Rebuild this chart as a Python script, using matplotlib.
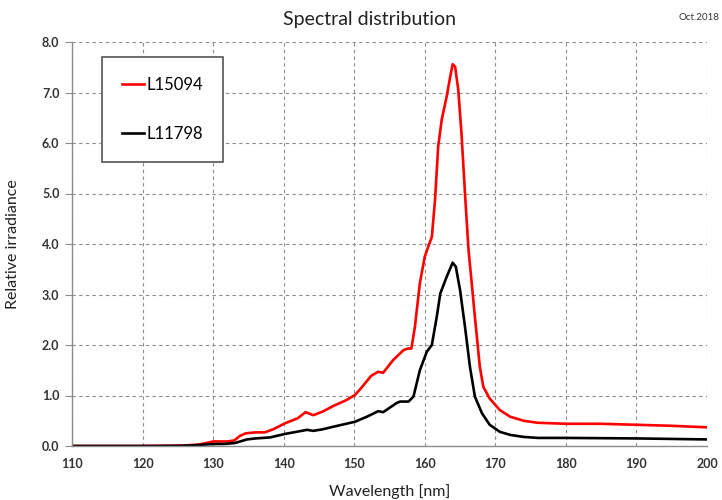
import matplotlib
matplotlib.use("Agg")
import matplotlib.pyplot as plt

# wavelength [nm] / relative irradiance
wl_red = [110, 115, 120, 124, 126, 128, 129, 130, 131, 132, 133, 133.8, 134.6,
          136, 137.3, 138.5, 140.2, 142, 143.1, 144.2, 145.5, 147, 148.9, 150.1,
          151, 152.4, 153.4, 154.1, 155.5, 157, 157.6, 158.1, 158.6, 159.3,
          160, 160.5, 161, 161.45, 161.9, 162.4, 163.1, 163.6, 163.95, 164.3,
          164.75, 165.2, 165.7, 166.2, 166.6, 167.1, 167.8, 168.3, 169.2,
          170.65, 172.1, 174, 176, 180, 185, 190, 195, 200]
irr_red = [0, 0, 0, 0.005, 0.01, 0.03, 0.06, 0.09, 0.09, 0.09, 0.11, 0.2, 0.25,
           0.27, 0.27, 0.33, 0.45, 0.55, 0.67, 0.61, 0.68, 0.79, 0.91, 1.01,
           1.15, 1.39, 1.47, 1.45, 1.70, 1.90, 1.93, 1.93, 2.36, 3.22,
           3.75, 3.95, 4.14, 4.87, 5.93, 6.46, 6.92, 7.31, 7.56, 7.51,
           7.05, 6.19, 5.0, 3.88, 3.3, 2.56, 1.57, 1.17, 0.94,
           0.71, 0.58, 0.50, 0.46, 0.44, 0.44, 0.42, 0.40, 0.37]

wl_black = [110, 120, 125, 127, 129, 130.3, 131.5, 133.1, 134.8, 136, 138.1,
            140.2, 141.8, 143.3, 144.2, 145.5, 147, 150.1, 151.8, 153.4, 154.1,
            156, 156.5, 157.7, 158.4, 159.3, 160.3, 161, 161.7, 162.2, 163.1,
            163.95, 164.4, 165, 165.7, 166.4, 167.1, 168.1, 169.2, 170.65,
            172.1, 174, 176, 180, 190, 200]
irr_black = [0, 0, 0.003, 0.01, 0.03, 0.04, 0.04, 0.06, 0.13, 0.15, 0.17,
             0.24, 0.28, 0.32, 0.30, 0.33, 0.38, 0.48, 0.58, 0.69, 0.67,
             0.85, 0.88, 0.88, 0.98, 1.5, 1.87, 2.0, 2.56, 3.02, 3.35,
             3.63, 3.55, 3.09, 2.36, 1.57, 0.98, 0.65, 0.42, 0.28,
             0.22, 0.18, 0.16, 0.16, 0.15, 0.13]

labels = ["L15094", "L11798"]
xticks = list(range(110, 201, 10))
yticks = [0, 1, 2, 3, 4, 5, 6, 7, 8]

plt.rcParams['font.family'] = ['Lato', 'DejaVu Sans']

fig = plt.figure(figsize=(7.22, 5.0), dpi=100)
ax = fig.add_axes([72 / 722, 54 / 500, 635 / 722, 404 / 500])

ax.plot(wl_red, irr_red, color='#ff0000', lw=1.9, label=labels[0],
        solid_joinstyle='round')
ax.plot(wl_black, irr_black, color='black', lw=1.9, label=labels[1],
        solid_joinstyle='round')

ax.set_xlim(110, 200)
ax.set_ylim(0, 8)
ax.set_xticks(xticks)
ax.set_yticks(yticks)
ax.set_yticklabels([f"{v:.1f}" for v in yticks])
ax.grid(True, ls=(0, (3, 3)), color='#8c8c8c', lw=0.8)
ax.set_axisbelow(True)

for s in ['top', 'right']:
    ax.spines[s].set_visible(False)
for s in ['left', 'bottom']:
    ax.spines[s].set_color('#8c8c8c')
    ax.spines[s].set_linewidth(1.0)

ax.tick_params(axis='y', length=5, color='#8c8c8c', pad=4,
               labelsize=9, labelcolor='#333333')
ax.tick_params(axis='x', length=0, pad=9, labelsize=9, labelcolor='#333333')
for t in ax.get_xticklabels() + ax.get_yticklabels():
    t.set_fontweight('bold')

ax.set_xlabel("Wavelength [nm]", fontsize=11.5, color='#222222')
ax.xaxis.set_label_coords(0.5, -0.093)
ax.set_ylabel("Relative irradiance", fontsize=11.5, color='#222222')
ax.yaxis.set_label_coords(-0.082, 0.5)

leg = ax.legend(loc='upper left', bbox_to_anchor=(0.047, 0.963),
                borderaxespad=0, fontsize=12, frameon=True, fancybox=False,
                framealpha=1, edgecolor='#555555', borderpad=1.2,
                labelspacing=2.0, handlelength=1.3, handletextpad=0.2)
leg.get_frame().set_linewidth(1.2)

fig.text(0.512, 0.96, "Spectral distribution", ha='center', va='center',
         fontsize=14, color='#222222')
fig.text(0.997, 0.966, "Oct.2018", ha='right', va='center', fontsize=7,
         color='#333333')

fig.savefig("out.png", dpi=100)
